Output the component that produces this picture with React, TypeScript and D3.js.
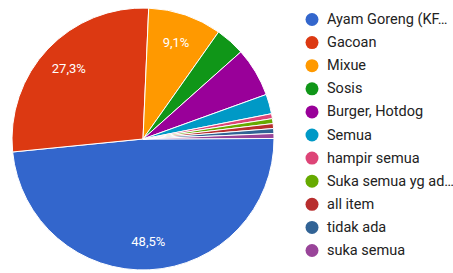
import React, { useEffect, useRef } from "react";
import * as d3 from "d3";

// survey answers (counts), order as in the legend
const labels = [
  "Ayam Goreng (KF…",
  "Gacoan",
  "Mixue",
  "Sosis",
  "Burger, Hotdog",
  "Semua",
  "hampir semua",
  "Suka semua yg ad…",
  "all item",
  "tidak ada",
  "suka semua",
];
const counts = [80, 45, 15, 6, 10, 4, 1, 1, 1, 1, 1];
const colors = [
  "#3366cc", "#dc3912", "#ff9900", "#109618", "#990099", "#0099c6",
  "#dd4477", "#66aa00", "#b82e2e", "#316395", "#994499",
];

export default function App() {
  const ref = useRef<SVGSVGElement>(null);

  useEffect(() => {
    const width = 453,
      height = 273;
    const cx = 143,
      cy = 139,
      radius = 131;

    const svg = d3.select(ref.current);
    svg.selectAll("*").remove();
    svg.attr("width", width).attr("height", height);

    const total = d3.sum(counts);
    const data = labels.map((l, i) => ({ label: l, value: counts[i], color: colors[i] }));

    // first two slices sit at the bottom / left, the rest run clockwise from 12 o'clock
    const rest = (total - counts[0] - counts[1]) / total;
    const offset = (2.5 * Math.PI) / 180;
    const start = rest * 2 * Math.PI + offset;

    const pie = d3
      .pie<any>()
      .sort(null)
      .value((d) => d.value)
      .startAngle(start)
      .endAngle(start + 2 * Math.PI);
    const arcs = pie(data);

    const g = svg.append("g").attr("transform", `translate(${cx},${cy})`);
    const arc = d3.arc<any>().innerRadius(0).outerRadius(radius);

    g.selectAll("path")
      .data(arcs)
      .enter()
      .append("path")
      .attr("d", arc)
      .attr("fill", (d) => d.data.color)
      .attr("stroke", "#fff")
      .attr("stroke-width", 1);

    const labelArc = d3.arc<any>().innerRadius(radius * 0.78).outerRadius(radius * 0.78);
    g.selectAll("text")
      .data(arcs.filter((d) => d.data.value / total > 0.08))
      .enter()
      .append("text")
      .attr("transform", (d) => `translate(${labelArc.centroid(d)})`)
      .attr("text-anchor", "middle")
      .attr("dominant-baseline", "central")
      .attr("fill", "#fff")
      .style("font-family", "Roboto, Arial, sans-serif")
      .style("font-size", "13px")
      .text((d) => ((d.data.value / total) * 100).toFixed(1).replace(".", ",") + "%");

    // legend
    const y = d3.scaleLinear().domain([0, labels.length - 1]).range([19.5, 250.5]);
    const legend = svg
      .append("g")
      .selectAll("g")
      .data(data)
      .enter()
      .append("g")
      .attr("transform", (d, i) => `translate(312,${y(i)})`);
    legend.append("circle").attr("r", 6.5).attr("fill", (d) => d.color);
    legend
      .append("text")
      .attr("x", 15)
      .attr("dominant-baseline", "central")
      .attr("fill", "#222")
      .style("font-family", "Roboto, Arial, sans-serif")
      .style("font-size", "14.5px")
      .text((d) => d.label);
  }, []);

  return (
    <svg
      ref={ref}
      style={{ position: "absolute", left: 0, top: 0, background: "#fff" }}
    />
  );
}
